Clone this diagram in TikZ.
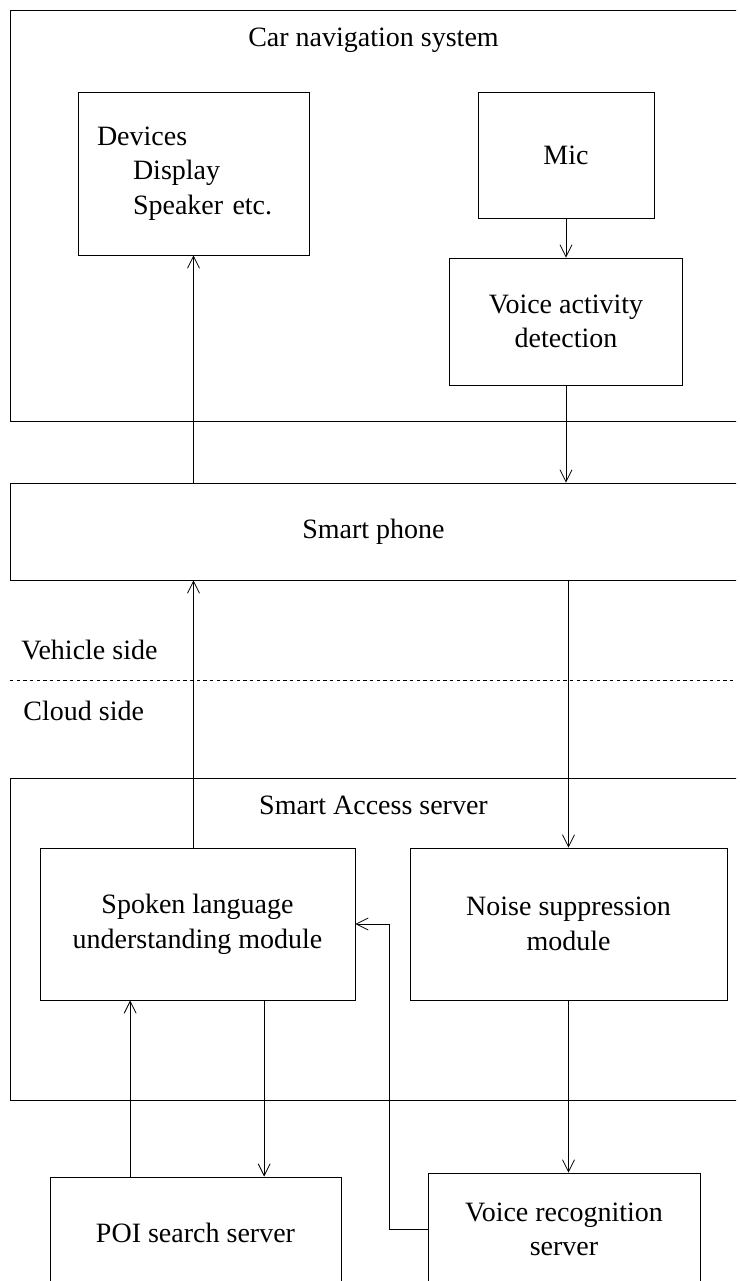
\documentclass[tikz,border=0pt]{standalone}
\usepackage{fontspec}
\setmainfont{Liberation Serif}
\usetikzlibrary{arrows.meta}

\begin{document}
\begin{tikzpicture}[x=0.75pt,y=-0.75pt,>/.tip={Straight Barb[length=9pt,width=9pt]},
	line width=0.6pt,
	every node/.style={font=\fontsize{21}{26}\selectfont},
	box/.style={draw,inner sep=0pt,align=center}]
	\useasboundingbox (0,0) rectangle (739,1281);
	\clip (0,0) rectangle (736,1281);
	% vehicle side
	\draw (373.5,215.5) node (car) [box,minimum width=545.25pt,minimum height=308.25pt] {};
	\node (cartitle) at (373.5,40) {Car navigation system};
	\draw (193.5,173.5) node (devices) [box,minimum width=173.25pt,minimum height=122.25pt,text width=144.75pt,inner xsep=14.25pt,align=left] {Devices\\\hspace*{27pt}Display\\\hspace*{27pt}Speaker etc.};
	\draw (566,155) node (mic) [box,minimum width=132pt,minimum height=94.5pt] {Mic};
	\draw (566,321.5) node (vad) [box,minimum width=174.75pt,minimum height=95.25pt] {Voice activity\\detection};
	\draw (373.5,531.5) node (phone) [box,minimum width=545.25pt,minimum height=72.75pt] {Smart phone};
	% border
	\coordinate (dashL) at (10,680);
	\coordinate (dashR) at (739,680);
	\draw[dash pattern=on 2.5pt off 2.5pt,line width=0.5pt] (dashL) -- (dashR);
	\node (vehicle) [anchor=west,inner xsep=0pt] at (21,650) {Vehicle side};
	\node (cloud) [anchor=west,inner xsep=0pt] at (23,711) {Cloud side};
	% cloud side
	\draw (373.5,939) node (access) [box,minimum width=545.25pt,minimum height=241.5pt] {};
	\node (accesstitle) at (373.5,805) {Smart Access server};
	\draw (197.5,924) node (slu) [box,minimum width=236.25pt,minimum height=114pt] {Spoken language\\understanding module};
	\draw (568.5,924) node (ns) [box,minimum width=237.75pt,minimum height=114pt] {Noise suppression\\module};
	\draw (195.5,1233) node (poi) [box,minimum width=218.25pt,minimum height=84pt] {POI search server};
	\draw (564,1229.5) node (vrs) [box,minimum width=204pt,minimum height=84.75pt] {Voice recognition\\server};
	\coordinate (sluout) at ([xshift=50pt]slu.south);
	\coordinate (poiout) at ([xshift=-49pt]poi.north);

	\path[->] (mic.south) edge (vad.north);
	\path[->] (vad.south) edge (vad.south |- phone.north);
	\path[->] (devices.south |- phone.north) edge (devices.south);
	\path[->] (devices.south |- slu.north) edge (devices.south |- phone.south);
	\path[->] (ns.north |- phone.south) edge (ns.north);
	\path[->] (ns.south) edge (ns.south |- vrs.north);
	\path[->] (sluout) edge (sluout |- poi.north);
	\path[->] (poiout) edge (poiout |- slu.south);
	\draw[->] (vrs.west) -- ++(-38,0) |- (slu.east);
\end{tikzpicture}
\end{document}
